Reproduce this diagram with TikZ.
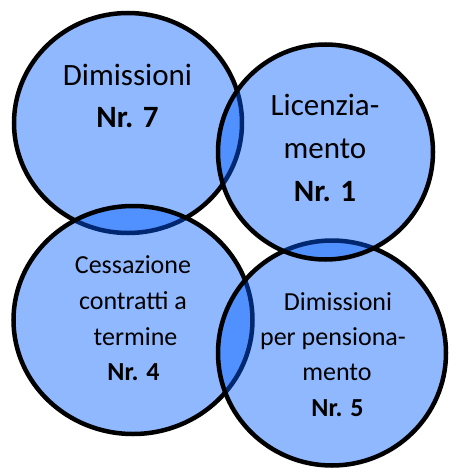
\documentclass[tikz,border=0pt]{standalone}
\usepackage{fontspec}
\setmainfont{Carlito}
\usetikzlibrary{shapes.geometric}
\definecolor{blobblue}{RGB}{0,93,255}
\tikzset{
  blob/.style={ellipse, draw=black, line width=4.5pt, fill=blobblue, fill opacity=0.44, draw opacity=1, inner sep=0pt},
  bigtxt/.style={anchor=base, inner sep=0pt, text=black, font=\fontsize{31}{37}\selectfont},
  smalltxt/.style={anchor=base, inner sep=0pt, text=black, font=\fontsize{26}{31}\selectfont},
}
\begin{document}
\begin{tikzpicture}[x=1pt, y=-1pt]
\useasboundingbox (0,0) rectangle (448,468);
% circles (drawing order matters for overlaps)
\node[blob, minimum width=228pt, minimum height=220pt] (tl) at (128,123) {};
\node[blob, minimum width=239pt, minimum height=228pt] (bl) at (133,320) {};
\node[blob, minimum width=228pt, minimum height=225pt] (br) at (332,353) {};
\node[blob, minimum width=215pt, minimum height=215pt] (tr) at (325.5,152) {};
% texts
\node[bigtxt] (tla) at (127.5,86) {Dimissioni};
\node[bigtxt] (tlb) at (127.5,128) {\bfseries Nr. 7};
\node[bigtxt] (tra) at (325,116) {Licenzia-};
\node[bigtxt] (trb) at (325,158) {mento};
\node[bigtxt] (trc) at (325,201) {\bfseries Nr. 1};
\node[smalltxt] (bla) at (133,273) {Cessazione};
\node[smalltxt] (blb) at (133,309) {contratti a};
\node[smalltxt] (blc) at (135.5,345) {termine};
\node[smalltxt] (bld) at (133.5,380) {\bfseries Nr. 4};
\node[smalltxt] (bra) at (338,310) {Dimissioni};
\node[smalltxt] (brb) at (333,345) {per pensiona-};
\node[smalltxt] (brc) at (337,380) {mento};
\node[smalltxt] (brd) at (337.5,416) {\bfseries Nr. 5};
\end{tikzpicture}
\end{document}
